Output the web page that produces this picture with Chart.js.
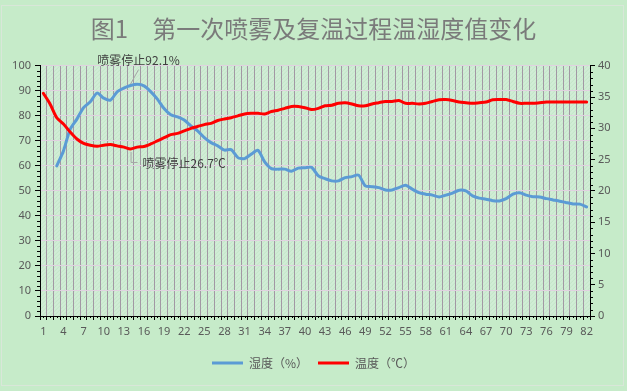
<!DOCTYPE html>
<html>
<head>
<meta charset="utf-8">
<script src="https://cdn.jsdelivr.net/npm/chart.js@4/dist/chart.umd.min.js"></script>
<style>
html,body{margin:0;padding:0;background:#c6ebc9;}
#wrap{width:627px;height:391px;}
</style>
</head>
<body>
<div id="wrap"><canvas id="c" width="627" height="391"></canvas></div>
<script>
const titleText = '图1\u3000第一次喷雾及复温过程温湿度值变化';
const categories = [];
for (let i = 1; i <= 82; i++) categories.push(String(i));
const seriesNames = ['湿度（%）', '温度（℃）'];
const humidity = [null, null, 60.0, 66.0, 74.7, 78.7, 83.3, 85.6, 89.1, 87.1,
  86.3, 89.6, 91.1, 92.1, 92.6, 92.0, 89.7, 86.7, 82.9, 80.4,
  79.6, 78.3, 76.0, 74.0, 71.3, 69.3, 68.0, 66.3, 66.5, 63.3,
  62.9, 64.7, 66.2, 61.6, 58.9, 58.7, 58.7, 57.9, 59.1, 59.3,
  59.4, 56.0, 54.9, 54.0, 54.0, 55.3, 55.7, 56.3, 52.0, 51.7,
  51.3, 50.4, 50.4, 51.3, 52.3, 50.7, 49.3, 48.7, 48.3, 47.6,
  48.3, 49.1, 50.3, 50.0, 48.0, 47.1, 46.7, 46.1, 46.0, 46.9,
  48.7, 49.3, 48.3, 47.7, 47.6, 46.9, 46.4, 45.9, 45.3, 44.8,
  44.7, 43.6];
const temperature = [35.6, 33.9, 31.7, 30.7, 29.4, 28.3, 27.6, 27.3, 27.15, 27.3,
  27.4, 27.2, 27.0, 26.7, 27.0, 27.1, 27.5, 28.0, 28.5, 29.0,
  29.2, 29.6, 30.0, 30.3, 30.6, 30.8, 31.25, 31.5, 31.7, 32.0,
  32.3, 32.4, 32.4, 32.3, 32.7, 32.9, 33.2, 33.5, 33.5, 33.3,
  33.0, 33.2, 33.6, 33.7, 34.0, 34.1, 33.9, 33.6, 33.6, 33.9,
  34.1, 34.3, 34.3, 34.45, 34.0, 34.0, 33.9, 34.0, 34.3, 34.56,
  34.6, 34.45, 34.2, 34.1, 34.0, 34.1, 34.2, 34.56, 34.6, 34.6,
  34.3, 34.0, 34.0, 34.0, 34.1, 34.2, 34.2, 34.2, 34.2, 34.2,
  34.2, 34.2];
const stopIndex = 13; // category 14
const humidityNote = '喷雾停止92.1%';
const temperatureNote = '喷雾停止26.7℃';

const bgPlugin = {
  id: 'bg',
  beforeDraw(chart) {
    const ctx = chart.ctx, a = chart.chartArea;
    ctx.save();
    ctx.fillStyle = '#c6ebc9';
    ctx.fillRect(0, 0, chart.width, chart.height);
    ctx.strokeStyle = '#d9e6d9';
    ctx.lineWidth = 1;
    ctx.strokeRect(1.5, 5.5, 622, 380);
    ctx.fillStyle = '#d0edd5';
    ctx.fillRect(a.left, a.top, a.right - a.left, a.bottom - a.top);
    ctx.beginPath();
    ctx.rect(a.left, a.top, a.right - a.left, a.bottom - a.top);
    ctx.clip();
    ctx.beginPath();
    const h = a.bottom - a.top;
    for (let x = a.left - h; x < a.right; x += 4) {
      ctx.moveTo(x, a.bottom);
      ctx.lineTo(x + h, a.top);
    }
    ctx.strokeStyle = 'rgba(186,224,192,0.55)';
    ctx.lineWidth = 1;
    ctx.stroke();
    ctx.restore();
  },
  afterDraw(chart) {
    const ctx = chart.ctx, a = chart.chartArea;
    const y = chart.scales.y, y1 = chart.scales.y1, x = chart.scales.x;
    ctx.save();
    ctx.strokeStyle = '#000';
    ctx.lineWidth = 1;
    ctx.beginPath();
    for (let v = 0; v <= 100; v += 2) {
      if (v % 10 === 0) continue;
      const py = Math.round(y.getPixelForValue(v)) + 0.5;
      ctx.moveTo(a.left - 3, py); ctx.lineTo(a.left, py);
    }
    for (let v = 0; v <= 40; v += 1) {
      if (v % 5 === 0) continue;
      const py = Math.round(y1.getPixelForValue(v)) + 0.5;
      ctx.moveTo(a.right, py); ctx.lineTo(a.right + 3, py);
    }
    for (let i = 0; i < categories.length; i++) {
      const px = Math.round(x.getPixelForValue(i)) + 0.5;
      ctx.moveTo(px, a.bottom); ctx.lineTo(px, a.bottom + 2);
    }
    ctx.stroke();

    // annotations
    const ph = chart.getDatasetMeta(0).data[stopIndex];
    const pt = chart.getDatasetMeta(1).data[stopIndex];
    ctx.strokeStyle = '#a6a6a6';
    ctx.beginPath();
    ctx.moveTo(ph.x, ph.y - 1.5); ctx.lineTo(ph.x + 8, ph.y - 16);
    ctx.moveTo(pt.x + 0.5, pt.y + 3); ctx.lineTo(pt.x + 0.5, pt.y + 13.5); ctx.lineTo(pt.x + 7, pt.y + 13.5);
    ctx.stroke();
    ctx.fillStyle = '#404040';
    ctx.font = '12px "Noto Sans CJK SC", sans-serif';
    ctx.textBaseline = 'middle';
    ctx.textAlign = 'center';
    ctx.fillText(humidityNote, ph.x + 8, ph.y - 25);
    ctx.textAlign = 'left';
    ctx.fillText(temperatureNote, pt.x + 12, pt.y + 14);
    ctx.restore();
  }
};

const tickFont = {family: '"Noto Sans", "DejaVu Sans", sans-serif', size: 11};

new Chart(document.getElementById('c'), {
  type: 'line',
  data: {
    labels: categories,
    datasets: [
      {label: seriesNames[0], data: humidity, yAxisID: 'y', borderColor: '#5b9bd5', backgroundColor: '#5b9bd5',
       borderWidth: 3, pointRadius: 0, tension: 0.25, order: 1, borderJoinStyle: 'round', borderCapStyle: 'round'},
      {label: seriesNames[1], data: temperature, yAxisID: 'y1', borderColor: '#ff0000', backgroundColor: '#ff0000',
       borderWidth: 3, pointRadius: 0, tension: 0.25, order: 0, borderJoinStyle: 'round', borderCapStyle: 'round'}
    ]
  },
  options: {
    responsive: false,
    animation: false,
    devicePixelRatio: 1,
    layout: {padding: {left: 0, right: 0, top: 0, bottom: 12}},
    plugins: {
      title: {display: true, text: titleText, color: '#7a7a7a',
        font: {family: '"Noto Sans CJK SC", sans-serif', size: 24, weight: 'normal'},
        padding: {top: 14, bottom: 23}},
      legend: {position: 'bottom',
        labels: {usePointStyle: true, pointStyle: 'line', pointStyleWidth: 31, color: '#595959', padding: 10,
          font: {family: '"Noto Sans CJK SC", sans-serif', size: 12},
          sort: (a, b) => a.datasetIndex - b.datasetIndex}},
      tooltip: {enabled: false}
    },
    scales: {
      x: {
        offset: true,
        grid: {offset: true, color: '#a298a4', lineWidth: 1, tickColor: '#000', tickLength: 4, drawTicks: true},
        border: {color: '#000', width: 1},
        ticks: {autoSkip: false, maxRotation: 0, minRotation: 0, padding: 5, color: '#595959', font: tickFont,
          callback: (v, i) => (i % 3 === 0 ? categories[i] : '')},
        afterFit: s => { s.height = 31; }
      },
      y: {
        position: 'left', min: 0, max: 100,
        ticks: {stepSize: 10, color: '#595959', font: tickFont, padding: 4},
        grid: {color: '#e0d2e0', lineWidth: 1, tickColor: '#000', tickLength: 5},
        border: {color: '#000', width: 1},
        afterFit: s => { s.width = 40; }
      },
      y1: {
        position: 'right', min: 0, max: 40,
        ticks: {stepSize: 5, color: '#595959', font: tickFont, padding: 3},
        grid: {drawOnChartArea: false, tickColor: '#000', tickLength: 5},
        border: {color: '#000', width: 1},
        afterFit: s => { s.width = 37; }
      }
    }
  },
  plugins: [bgPlugin]
});
</script>
</body>
</html>
